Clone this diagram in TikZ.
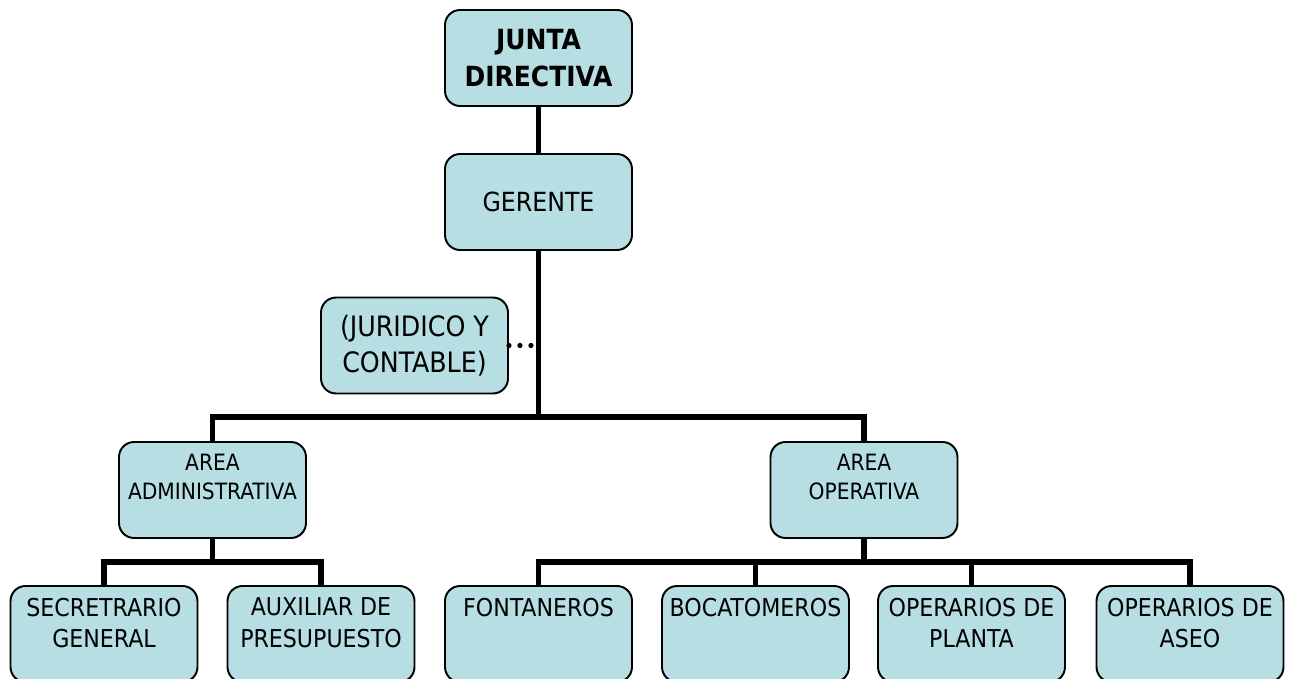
\documentclass[tikz,border=0pt]{standalone}
\usepackage{fontspec}
\setmainfont{DejaVu Sans Condensed}
\definecolor{boxfill}{RGB}{183,222,226}
\newcommand{\toplines}[1]{\parbox[t][1.45cm][t]{3.6cm}{\centering #1}}

\begin{document}
\begin{tikzpicture}[x=0.02cm, y=-0.02cm,
	unit/.style={draw=black, line width=1.1pt, rounded corners=0.3cm, fill=boxfill,
		minimum width=3.74cm, minimum height=1.92cm, inner sep=0pt, align=center,
		font=\fontsize{14}{18}\selectfont},
	area/.style={unit, font=\fontsize{12.8}{16.5}\selectfont},
	tree/.style={line width=3.1pt},
	dots/.style={line width=3pt, line cap=round, dash pattern=on 0pt off 0.22cm}]
	\useasboundingbox (0,0) rectangle (1289,679);

	\node[unit, font=\bfseries\fontsize{15.8}{21.5}\selectfont] (junta) at (538.5,58) {JUNTA\\DIRECTIVA};
	\node[unit, font=\fontsize{15}{18}\selectfont] (gerente) at (538.5,202) {GERENTE};
	\node[unit, font=\fontsize{16}{20.5}\selectfont] (juridico) at (414.5,345.5) {(JURIDICO Y\\CONTABLE)};
	\node[area]                                (admin)       at (212.5,490)  {\toplines{AREA\\ADMINISTRATIVA}};
	\node[area]                                (operativa)   at (864,490)    {\toplines{AREA\\OPERATIVA}};
	\node[unit]                                (secretario)  at (104,634)    {\toplines{SECRETRARIO\\GENERAL}};
	\node[unit]                                (auxiliar)    at (321,634)    {\toplines{AUXILIAR DE\\PRESUPUESTO}};
	\node[unit]                                (fontaneros)  at (538.5,634)  {\toplines{FONTANEROS}};
	\node[unit]                                (bocatomeros) at (755.5,634)  {\toplines{BOCATOMEROS}};
	\node[unit]                                (planta)      at (971.5,634)  {\toplines{OPERARIOS DE\\PLANTA}};
	\node[unit]                                (aseo)        at (1190,634)   {\toplines{OPERARIOS DE\\ASEO}};

	\coordinate (mainbar)  at (538.5,417);
	\coordinate (adminbar) at (212.5,562);
	\coordinate (opbar)    at (864,562);
	\coordinate (dotend)   at (536,345.5);

	\draw[tree] (junta) -- (gerente);
	\draw[tree] (gerente) -- (mainbar);
	\draw[tree] (admin) |- (mainbar) -| (operativa);
	\draw[tree] (admin) -- (adminbar);
	\draw[tree] (secretario) |- (adminbar) -| (auxiliar);
	\draw[tree] (operativa) -- (opbar);
	\draw[tree] (fontaneros) |- (opbar) -| (aseo);
	\foreach \n in {bocatomeros, planta}
		\draw[tree] (\n) -- (\n |- opbar);
	\draw[dots] (juridico) -- (dotend);
\end{tikzpicture}
\end{document}
